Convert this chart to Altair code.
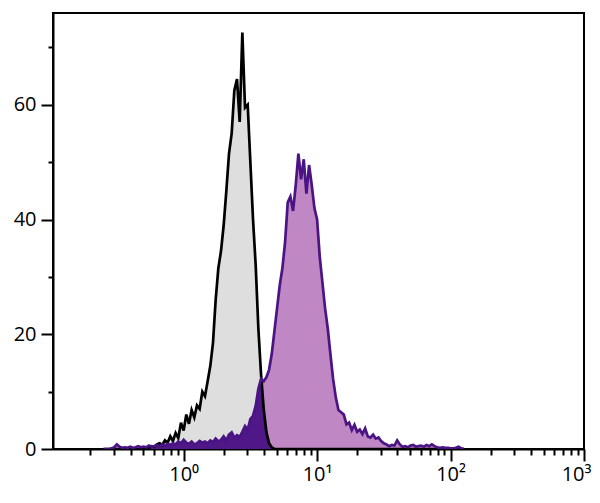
import altair as alt
import numpy as np
import pandas as pd

# histogram channels: log10 bin positions
log_start = -0.6
log_step = 0.02

control_counts = [
    0, 0, 0, 0, 0, 0, 0, 0, 0, 0,
    0, 0, 0, 0, 0, 0.2, 0.3, 0.2, 0.5, 0.4,
    0.8, 1.0, 0.7, 1.5, 1.1, 2.2, 1.4, 2.8, 1.9, 4.6,
    3.2, 6.0, 4.4, 6.8, 5.5, 7.6, 7.0, 10.0, 9.2, 11.8,
    14.5, 18.5, 26, 31.5, 34.5, 39, 45, 51.5, 55, 62.5,
    64.5, 57, 72.6, 59.5, 60, 50, 40, 32, 21, 13,
    7, 3, 1, 0.3, 0, 0, 0, 0, 0, 0,
]

stained_counts = [
    0, 0, 0, 0.1, 0.3, 0.8, 0.4, 0.2, 0.3, 0.2,
    0.4, 0.2, 0.3, 0.5, 0.3, 0.4, 0.3, 0.6, 0.4, 0.5,
    0.7, 0.5, 0.8, 0.6, 0.9, 0.7, 1.0, 0.8, 1.3, 1.0,
    1.6, 1.1, 0.9, 1.3, 0.8, 1.0, 1.4, 1.1, 1.3, 1.0,
    1.5, 1.2, 1.8, 1.3, 1.6, 2.2, 1.5, 2.5, 2.9, 2.0,
    2.4, 2.1, 3.0, 4.0, 3.4, 5.2, 5.8, 7.5, 10.5, 12.2,
    11.8, 12.5, 13.8, 16.5, 20.5, 24.5, 28.5, 31.5, 36, 43,
    44, 41.5, 46, 51.5, 47, 50.5, 44.5, 49.5, 46, 42,
    40, 33.5, 29, 24.5, 21, 16.5, 12.2, 9.0, 6.8, 6.4,
    6.0, 4.3, 4.6, 3.3, 4.2, 3.0, 3.4, 2.6, 3.6, 2.2,
    2.0, 2.5, 1.8, 2.0, 1.4, 1.0, 0.8, 0.5, 0.7, 0.6,
    1.5, 0.8, 0.4, 0.5, 0.3, 0.6, 0.7, 0.4, 0.5, 0.6,
    0.4, 0.7, 0.5, 0.8, 0.5, 0.3, 0.2, 0.3, 0.2, 0.2,
    0.1, 0.1, 0.2, 0.4, 0.1, 0,
]

x_major = [1, 10, 100, 1000]
x_major_labels = ["10⁰", "10¹", "10²", "10³"]
x_minor = [m * d for d in [0.1, 1, 10, 100] for m in range(2, 10)]
y_major = [0, 20, 40, 60]
y_minor = [10, 30, 50, 70]

n = max(len(control_counts), len(stained_counts))
ctrl = control_counts + [0] * (n - len(control_counts))
stn = stained_counts + [0] * (n - len(stained_counts))
logs = np.round(log_start + log_step * np.arange(n), 4)
df = pd.DataFrame({
    "x": 10 ** logs,
    "control": ctrl,
    "stained": stn,
})
df["overlap"] = np.minimum(df["control"], df["stained"])

FONT = "Open Sans"
xscale = alt.Scale(type="log", domain=[0.105, 1000], nice=False)
yscale = alt.Scale(domain=[0, 76], nice=False, zero=True)

label_expr = " : ".join(
    f"datum.value == {v} ? '{l}'" for v, l in zip(x_major[:-1], x_major_labels[:-1])
) + f" : '{x_major_labels[-1]}'"

x_minor_axis = alt.Axis(orient="bottom", values=x_minor, tickSize=6, tickWidth=2,
                        tickColor="black", labels=False, domain=False, grid=False, title=None)
x_major_axis = alt.Axis(orient="bottom", values=x_major, tickSize=12, tickWidth=2,
                        tickColor="black", labelExpr=label_expr, labelFont=FONT,
                        labelFontSize=20, labelColor="black", labelPadding=3,
                        labelFlush=5, labelFlushOffset=7, labelOverlap=False,
                        domain=True, domainColor="black", domainWidth=2,
                        grid=False, title=None)
y_minor_axis = alt.Axis(orient="left", values=y_minor, tickSize=5, tickWidth=2,
                        tickColor="black", labels=False, domain=False, grid=False, title=None)
y_major_axis = alt.Axis(orient="left", values=y_major, tickSize=12, tickWidth=2,
                        tickColor="black", labelFont=FONT, labelFontSize=20,
                        labelColor="black", labelPadding=5, labelFlush=False,
                        domain=True, domainColor="black", domainWidth=2,
                        grid=False, title=None)

base = alt.Chart(df)

gray_area = base.mark_area(color="#dedede", clip=True).encode(
    x=alt.X("x:Q", scale=xscale, axis=x_minor_axis),
    y=alt.Y("control:Q", scale=yscale, axis=y_minor_axis),
)
purple_area = base.mark_area(color="#bf87c3", clip=True).encode(
    x=alt.X("x:Q", scale=xscale, axis=None),
    y=alt.Y("stained:Q", scale=yscale, axis=None),
)
overlap_area = base.mark_area(color="#4f1787", clip=True).encode(
    x=alt.X("x:Q", scale=xscale, axis=None),
    y=alt.Y("overlap:Q", scale=yscale, axis=None),
)
black_line = base.mark_line(color="black", strokeWidth=2.7, clip=True).encode(
    x=alt.X("x:Q", scale=xscale, axis=x_major_axis),
    y=alt.Y("control:Q", scale=yscale, axis=y_major_axis),
)
purple_line = base.mark_line(color="#4a1485", strokeWidth=2.7, clip=True).encode(
    x=alt.X("x:Q", scale=xscale, axis=None),
    y=alt.Y("stained:Q", scale=yscale, axis=None),
)

chart = alt.layer(
    gray_area, purple_area, overlap_area, black_line, purple_line
).resolve_axis(x="independent", y="independent").properties(
    width=531,
    height=436,
    autosize=alt.AutoSizeParams(type="none"),
    padding={"left": 45, "top": 5, "right": 8, "bottom": 45},
    background="white",
).configure_view(stroke="black", strokeWidth=2)

chart.save("out.html", embed_options={"renderer": "svg", "actions": False})
